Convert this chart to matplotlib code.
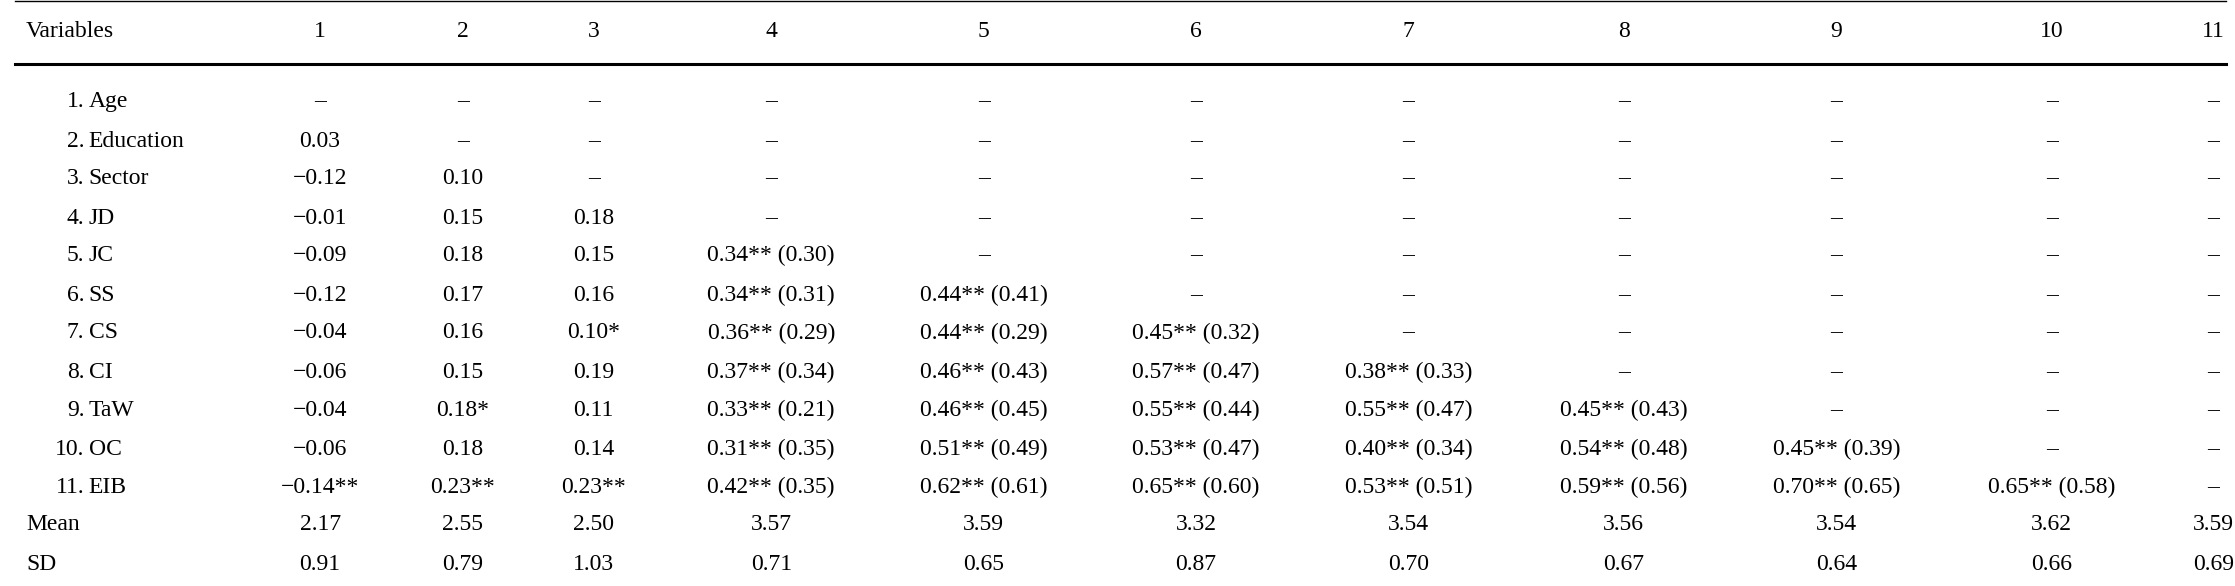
import matplotlib.pyplot as plt

headers = ["Variables", "1", "2", "3", "4", "5", "6", "7", "8", "9", "10", "11"]
row_nums = ["1.", "2.", "3.", "4.", "5.", "6.", "7.", "8.", "9.", "10.", "11."]
row_names = ["Age", "Education", "Sector", "JD", "JC", "SS", "CS", "CI", "TaW", "OC", "EIB"]
corr = [
    [],
    ["0.03"],
    ["\u22120.12", "0.10"],
    ["\u22120.01", "0.15", "0.18"],
    ["\u22120.09", "0.18", "0.15", "0.34** (0.30)"],
    ["\u22120.12", "0.17", "0.16", "0.34** (0.31)", "0.44** (0.41)"],
    ["\u22120.04", "0.16", "0.10*", "0.36** (0.29)", "0.44** (0.29)", "0.45** (0.32)"],
    ["\u22120.06", "0.15", "0.19", "0.37** (0.34)", "0.46** (0.43)", "0.57** (0.47)", "0.38** (0.33)"],
    ["\u22120.04", "0.18*", "0.11", "0.33** (0.21)", "0.46** (0.45)", "0.55** (0.44)", "0.55** (0.47)", "0.45** (0.43)"],
    ["\u22120.06", "0.18", "0.14", "0.31** (0.35)", "0.51** (0.49)", "0.53** (0.47)", "0.40** (0.34)", "0.54** (0.48)", "0.45** (0.39)"],
    ["\u22120.14**", "0.23**", "0.23**", "0.42** (0.35)", "0.62** (0.61)", "0.65** (0.60)", "0.53** (0.51)", "0.59** (0.56)", "0.70** (0.65)", "0.65** (0.58)"],
]
means = ["2.17", "2.55", "2.50", "3.57", "3.59", "3.32", "3.54", "3.56", "3.54", "3.62", "3.59"]
sds = ["0.91", "0.79", "1.03", "0.71", "0.65", "0.87", "0.70", "0.67", "0.64", "0.66", "0.69"]

W, H = 1536, 403
col_x = [220, 318, 408, 530, 676, 822, 968, 1116, 1262, 1410, 1521]
row_y = [70, 97, 123, 150, 176, 203, 229, 256, 282, 309, 335]
fs = 17
fam = ["Liberation Serif", "DejaVu Serif"]

fig = plt.figure(figsize=(22.35, 5.86), dpi=100)
def T(x, y, s, ha="center"):
    fig.text(x / W, 1 - y / H, s, ha=ha, va="center", fontsize=fs, family=fam)

T(18, 22, headers[0], ha="left")
for j, h in enumerate(headers[1:]):
    T(col_x[j], 22, h)
fig.add_artist(plt.Line2D([10 / W, 1530 / W], [1 - 44 / H] * 2, color="black", lw=2.2))
fig.add_artist(plt.Line2D([10 / W, 1530 / W], [1 - 1 / H] * 2, color="black", lw=1.0))

for i in range(11):
    y = row_y[i]
    T(58, y, row_nums[i], ha="right")
    T(61, y, row_names[i], ha="left")
    for j in range(11):
        s = corr[i][j] if j < len(corr[i]) else "\u2013"
        T(col_x[j], y, s)

T(18, 361, "Mean", ha="left")
T(18, 388, "SD", ha="left")
for j in range(11):
    T(col_x[j], 361, means[j])
    T(col_x[j], 388, sds[j])

fig.savefig("out.png", dpi=100, facecolor="white")
